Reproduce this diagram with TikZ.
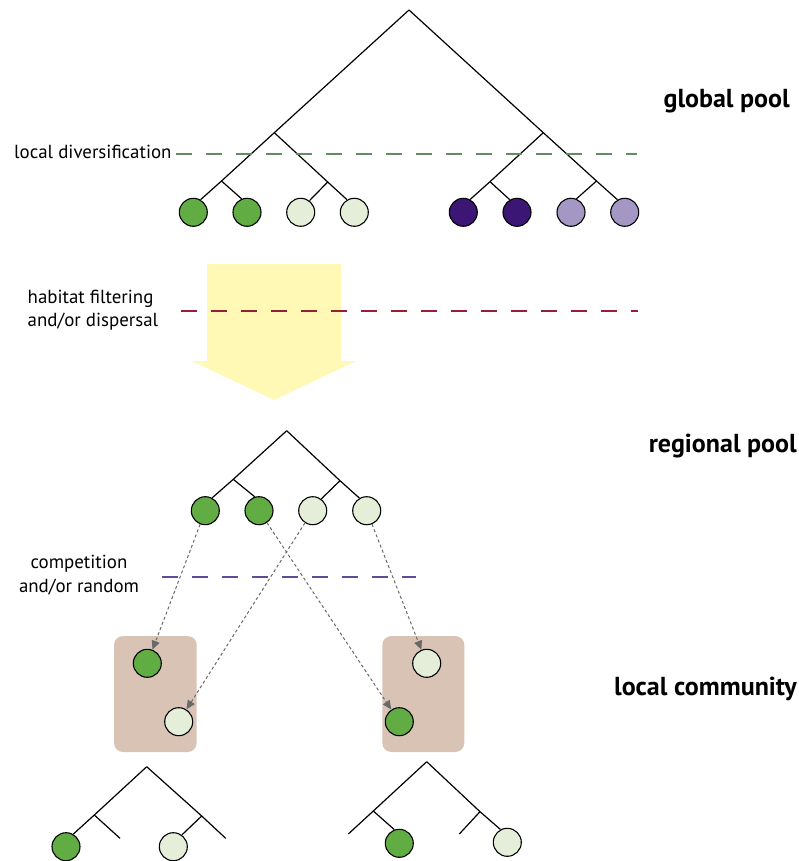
\documentclass[tikz,border=0pt]{standalone}
\usepackage{fontspec}
\setmainfont{PT Sans}
\usetikzlibrary{arrows.meta}
\definecolor{cgreen}{RGB}{98,173,67}
\definecolor{clight}{RGB}{228,238,216}
\definecolor{cdpurp}{RGB}{59,22,117}
\definecolor{clpurp}{RGB}{164,151,195}
\definecolor{cbox}{RGB}{216,195,181}
\definecolor{cyel}{RGB}{255,249,181}
\definecolor{dgreen}{RGB}{100,140,100}
\definecolor{dred}{RGB}{150,30,55}
\definecolor{dpurp}{RGB}{95,75,150}
\definecolor{carrow}{RGB}{105,105,105}
\begin{document}
\begin{tikzpicture}[x=1pt,y=-1pt,
  sp/.style={circle,draw=black,line width=1.1pt,minimum size=28pt,inner sep=0pt},
  gsp/.style={sp,fill=cgreen},
  lsp/.style={sp,fill=clight},
  dsp/.style={sp,fill=cdpurp},
  psp/.style={sp,fill=clpurp},
  branch/.style={line width=1.2pt,black},
  level/.style={line width=1.3pt,dash pattern=on 16pt off 14pt},
  lab/.style={font=\fontsize{18.9}{22}\selectfont,inner sep=0pt},
  title/.style={font=\fontsize{26}{28}\selectfont\bfseries,inner sep=0pt},
  disp/.style={carrow,line width=1pt,dash pattern=on 3pt off 2.5pt,
     -{Triangle[length=9pt,width=8pt]}},
  comm/.style={fill=cbox,rounded corners=9pt}
]
\useasboundingbox (0,0) rectangle (799,861);

% ---------- global pool ----------
\coordinate (gR) at (409,10);
\coordinate (gL) at (274.3,132.7);
\coordinate (gLL) at (221.5,181);
\coordinate (gLR) at (327.7,182);
\coordinate (gRt) at (543.3,132.7);
\coordinate (gRL) at (490,181.7);
\coordinate (gRR) at (596.5,181);
\node[gsp] (g1) at (193.3,212.3) {};
\node[gsp] (g2) at (247,212.3) {};
\node[lsp] (g3) at (300.7,212.3) {};
\node[lsp] (g4) at (354.3,212.3) {};
\node[dsp] (g5) at (463.3,212.3) {};
\node[dsp] (g6) at (517,212.3) {};
\node[psp] (g7) at (571,212.3) {};
\node[psp] (g8) at (624.7,212.3) {};
\draw[branch] (gR) -- (gL) -- (gLL) -- (g1.60);
\draw[branch] (gLL) -- (g2.112);
\draw[branch] (gL) -- (gLR) -- (g4.120);
\draw[branch] (gLR) -- (g3.53);
\draw[branch] (gR) -- (gRt) -- (gRR) -- (g8.120);
\draw[branch] (gRt) -- (gRL) -- (g5.62);
\draw[branch] (gRL) -- (g6.120);
\draw[branch] (gRR) -- (g7.68);

\node[lab,anchor=base west] (tdiv) at (14,159) {local diversification};
\coordinate (dvA) at (176,154);
\coordinate (dvB) at (637,154);
\draw[level,dgreen] (dvA) -- (dvB);

\node[title,anchor=base east] (tglob) at (790,108) {global pool};

% ---------- filtering arrow ----------
\path[fill=cyel] (207,264) -- (341,264) -- (341,361) -- (356,361) -- (274,400)
   -- (192,361) -- (207,361) -- cycle;
\node[lab,anchor=base west] (thf1) at (27.5,303.5) {habitat filtering};
\node[lab,anchor=base west] (thf2) at (27.5,326.5) {and/or dispersal};
\coordinate (hfA) at (181,311);
\coordinate (hfB) at (638,311);
\draw[level,dred] (hfA) -- (hfB);

% ---------- regional pool ----------
\coordinate (rR) at (286.7,430.7);
\coordinate (rL) at (233.3,479.3);
\coordinate (rRt) at (340,480.7);
\node[gsp] (r1) at (205.3,510.7) {};
\node[gsp] (r2) at (259,510.7) {};
\node[lsp] (r3) at (312.7,510.7) {};
\node[lsp] (r4) at (366.7,510.7) {};
\draw[branch] (rR) -- (rL) -- (r1.62);
\draw[branch] (rL) -- (r2.107);
\draw[branch] (rR) -- (rRt) -- (r4.120);
\draw[branch] (rRt) -- (r3.54);
\node[title,anchor=base east] (treg) at (797,452) {regional pool};

\node[lab,anchor=base] (tcr1) at (79,568) {competition};
\node[lab,anchor=base] (tcr2) at (79,592) {and/or random};
\coordinate (crA) at (162,577);
\coordinate (crB) at (416,577);
\draw[level,dpurp] (crA) -- (crB);

% ---------- local communities ----------
\path[comm] (114,636) rectangle (196.7,752);
\path[comm] (382.3,636) rectangle (464.3,752);
\node[gsp] (l1) at (147.3,663.3) {};
\node[lsp] (l2) at (178.7,721.7) {};
\node[lsp] (l3) at (426.7,663.3) {};
\node[gsp] (l4) at (399.3,721.7) {};
\draw[disp] (r1) -- (l1);
\draw[disp] (r3) -- (l2);
\draw[disp] (r2) -- (l4);
\draw[disp] (r4) -- (l3);
\node[title,anchor=base east] (tloc) at (797,695) {local community};

% ---------- bottom trees ----------
\coordinate (aR) at (146.7,766.7);
\coordinate (aL) at (94.3,815);
\coordinate (aLe) at (120,838.3);
\coordinate (aRt) at (201.7,816);
\coordinate (aRe) at (225.7,838.3);
\node[gsp] (b1) at (66,846.7) {};
\node[lsp] (b2) at (173.3,846.7) {};
\draw[branch] (aR) -- (aL) -- (b1.60);
\draw[branch] (aL) -- (aLe);
\draw[branch] (aR) -- (aRt) -- (aRe);
\draw[branch] (aRt) -- (b2.54);

\coordinate (cR) at (426.7,761.7);
\coordinate (cL) at (373.3,811);
\coordinate (cLe) at (348.3,834);
\coordinate (cRt) at (480,811.7);
\coordinate (cRe) at (459.3,834);
\node[gsp] (b3) at (399.3,843.3) {};
\node[lsp] (b4) at (507.3,842.3) {};
\draw[branch] (cR) -- (cL) -- (cLe);
\draw[branch] (cL) -- (b3.110);
\draw[branch] (cR) -- (cRt) -- (b4.118);
\draw[branch] (cRt) -- (cRe);
\end{tikzpicture}
\end{document}
